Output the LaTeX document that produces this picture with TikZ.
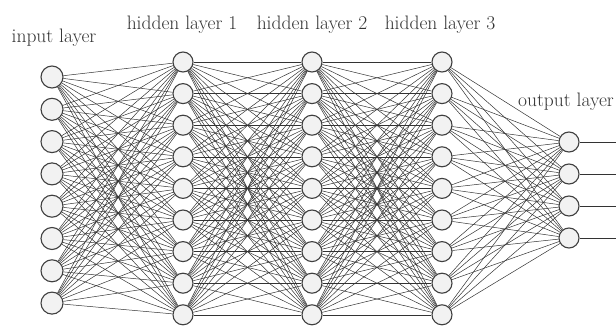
\documentclass[tikz,border=0pt]{standalone}
\usetikzlibrary{positioning}
\begin{document}
\begin{tikzpicture}[x=1pt,y=-1pt,
    neuron/.style={circle,draw=black!75,line width=1.1pt,fill=black!5,minimum size=20pt,inner sep=0pt},
    inneuron/.style={neuron,minimum size=22pt},
    synapse/.style={black!80,line width=0.5pt},
    layername/.style={font=\fontsize{19.5}{22}\selectfont,text=black!80,inner sep=0pt}]
    \useasboundingbox (0,0) rectangle (616,332);
    % Input layer
    \foreach \i in {1,...,8}
        \node[inneuron] (I\i) at (52,{77+32.3*(\i-1)}) {};
    % Hidden layers
    \foreach \l/\x in {1/183,2/312,3/442}
        \foreach \i in {1,...,9}
            \node[neuron] (H\l-\i) at (\x,{62+31.6*(\i-1)}) {};
    % Output layer
    \foreach \i in {1,...,4}
        \node[neuron] (O\i) at (569,{142+32*(\i-1)}) {};
    % Connections between layers
    \foreach \i in {1,...,8}
        \foreach \j in {1,...,9}
            \draw[synapse] (I\i) -- (H1-\j);
    \foreach \l/\m in {1/2,2/3}
        \foreach \i in {1,...,9}
            \foreach \j in {1,...,9}
                \draw[synapse] (H\l-\i) -- (H\m-\j);
    \foreach \i in {1,...,9}
        \foreach \j in {1,...,4}
            \draw[synapse] (H3-\i) -- (O\j);
    % Outputs leaving the picture
    \foreach \i in {1,...,4} {
        \coordinate (E\i) at (616,{142+32*(\i-1)});
        \draw[synapse] (O\i) -- (E\i);
    }
    % Layer labels
    \node[layername] (linput) at (54,38) {input layer};
    \node[layername] (lhid1) at (182,25) {hidden layer 1};
    \node[layername] (lhid2) at (312,25) {hidden layer 2};
    \node[layername] (lhid3) at (440,25) {hidden layer 3};
    \node[layername,anchor=east] (loutput) at (614,102) {output layer};
\end{tikzpicture}
\end{document}
